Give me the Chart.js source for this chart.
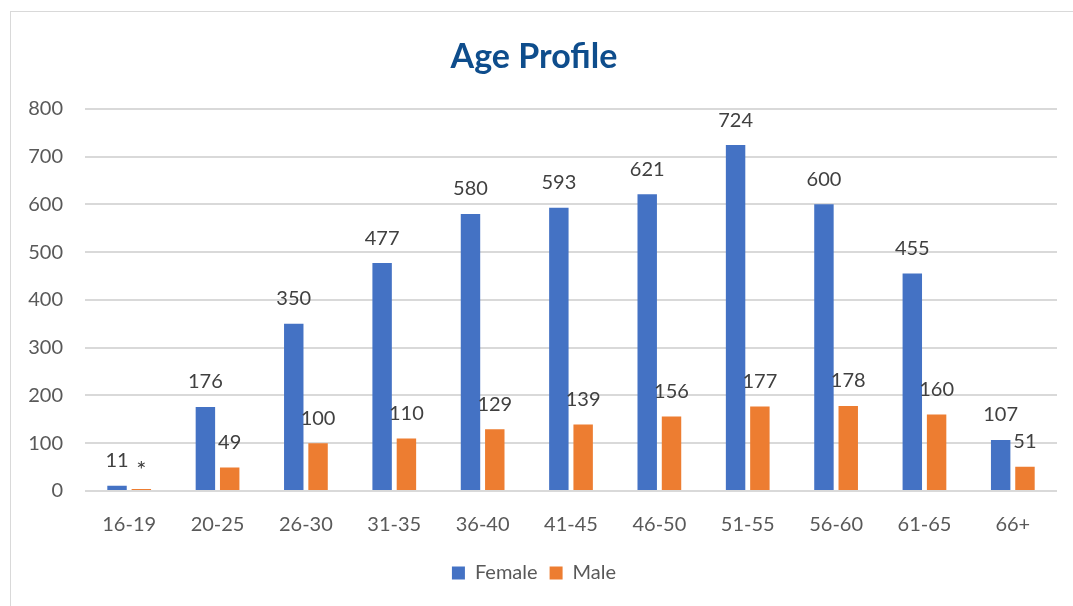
<!DOCTYPE html>
<html>
<head>
<meta charset="utf-8">
<script src="https://cdn.jsdelivr.net/npm/chart.js@4"></script>
<style>
    body { margin: 0; background: #ffffff; }
    #box {
        position: absolute; left: 10px; top: 11px;
        width: 1062px; height: 594px;
        border: 1px solid #d9d9d9; background: #fff;
    }
</style>
</head>
<body>
<div id="box"><canvas id="ageChart" width="1062" height="594"></canvas></div>
<script>
const ageGroups = ['16-19', '20-25', '26-30', '31-35', '36-40', '41-45', '46-50', '51-55', '56-60', '61-65', '66+'];
const femaleCounts = [11, 176, 350, 477, 580, 593, 621, 724, 600, 455, 107];
const maleCounts = [4, 49, 100, 110, 129, 139, 156, 177, 178, 160, 51];
const yTicks = [0, 100, 200, 300, 400, 500, 600, 700, 800];

// small counts are suppressed in the labels, shown as '*'
const suppressBelow = 10;

const fontFamily = 'Lato, "Open Sans", sans-serif';

const valueLabels = {
    id: 'valueLabels',
    afterDatasetsDraw(chart) {
        const ctx = chart.ctx;
        ctx.save();
        ctx.font = '20px ' + fontFamily;
        ctx.fillStyle = '#404040';
        ctx.textAlign = 'center';
        ctx.textBaseline = 'middle';
        chart.data.datasets.forEach(function(ds, i) {
            chart.getDatasetMeta(i).data.forEach(function(bar, j) {
                const v = ds.data[j];
                if (v < suppressBelow && i === 1) {
                    ctx.font = '24px ' + fontFamily;
                    ctx.fillText('*', bar.x, bar.y - 19);
                    ctx.font = '20px ' + fontFamily;
                } else {
                    ctx.fillText(String(v), bar.x, bar.y - 25);
                }
            });
        });
        ctx.restore();
    }
};

const ctx = document.getElementById('ageChart').getContext('2d');
new Chart(ctx, {
    type: 'bar',
    data: {
        labels: ageGroups,
        datasets: [{
            label: 'Female',
            data: femaleCounts,
            backgroundColor: '#4472C4',
            categoryPercentage: 0.55,
            barPercentage: 0.8
        }, {
            label: 'Male',
            data: maleCounts,
            backgroundColor: '#ED7D31',
            categoryPercentage: 0.55,
            barPercentage: 0.8
        }]
    },
    options: {
        responsive: false,
        animation: false,
        layout: { padding: { left: 0, right: 16, top: 0, bottom: 13 } },
        plugins: {
            title: {
                display: true,
                text: 'Age Profile',
                color: '#0E4D8C',
                font: { family: fontFamily, size: 34, weight: 'bold' },
                padding: { top: 25, bottom: 31 }
            },
            legend: {
                position: 'bottom',
                labels: {
                    color: '#595959',
                    font: { family: fontFamily, size: 20 },
                    boxWidth: 13,
                    boxHeight: 13,
                    padding: 12
                }
            },
            tooltip: { enabled: false }
        },
        scales: {
            x: {
                grid: { display: false },
                border: { display: false },
                ticks: {
                    color: '#595959',
                    font: { family: fontFamily, size: 20 },
                    padding: 14
                }
            },
            y: {
                min: 0,
                max: 800,
                afterFit: function(scale) { scale.width = 74; },
                afterBuildTicks: function(scale) {
                    scale.ticks = yTicks.map(function(v) { return { value: v }; });
                },
                grid: { color: '#d9d9d9', lineWidth: 2, drawTicks: false },
                border: { display: false },
                ticks: {
                    color: '#595959',
                    font: { family: fontFamily, size: 20 },
                    padding: 22
                }
            }
        }
    },
    plugins: [valueLabels]
});
</script>
</body>
</html>
